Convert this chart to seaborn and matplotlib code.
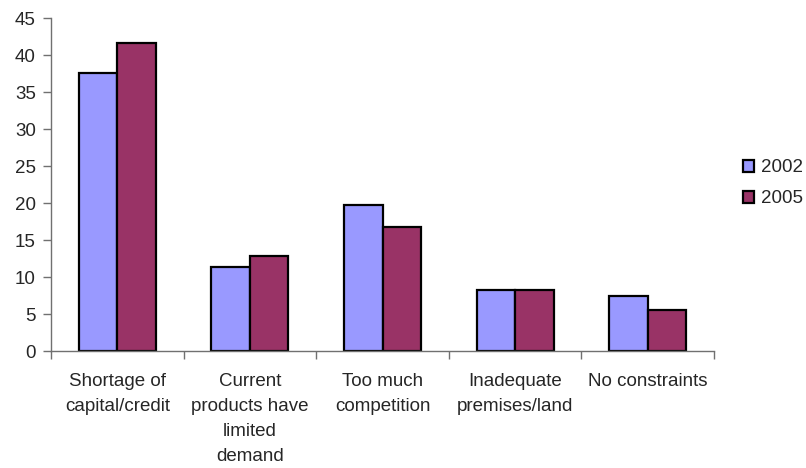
import matplotlib
matplotlib.use("Agg")
import matplotlib.pyplot as plt
import pandas as pd
import seaborn as sns

categories = [
    "Shortage of\ncapital/credit",
    "Current\nproducts have\nlimited\ndemand",
    "Too much\ncompetition",
    "Inadequate\npremises/land",
    "No constraints",
]
years = ["2002", "2005"]
values_2002 = [37.6, 11.3, 19.7, 8.2, 7.4]
values_2005 = [41.7, 12.9, 16.8, 8.2, 5.5]
colors = ["#9999FF", "#993366"]

df = pd.DataFrame({
    "category": categories * 2,
    "year": [years[0]] * len(categories) + [years[1]] * len(categories),
    "value": values_2002 + values_2005,
})

sns.set_style("white")
plt.rcParams["font.family"] = ["Liberation Sans", "DejaVu Sans"]

fig, ax = plt.subplots(figsize=(8.06, 4.68), dpi=100)
fig.subplots_adjust(left=0.0633, right=0.886, bottom=0.25, top=0.961)

sns.barplot(data=df, x="category", y="value", hue="year", palette=colors,
            width=0.58, edgecolor="black", linewidth=1.6, saturation=1,
            ax=ax, legend=False)

ax.set_xlim(-0.5, len(categories) - 0.5)
ax.set_ylim(0, 45)
ax.set_yticks(range(0, 46, 5))
ax.set_xlabel("")
ax.set_ylabel("")

# category labels centred, tick marks at group boundaries
ax.set_xticks(range(len(categories)))
ax.set_xticklabels(categories, fontsize=13.5, linespacing=1.62)
ax.tick_params(axis="x", which="major", length=0, pad=16)
ax.set_xticks([i - 0.5 for i in range(len(categories) + 1)], minor=True)
ax.tick_params(axis="x", which="minor", length=6, width=1, color="#707070",
               direction="out", bottom=True)
ax.tick_params(axis="y", length=6, width=1, color="#707070", direction="out",
               left=True, labelsize=13.5, pad=5)

for side in ["top", "right"]:
    ax.spines[side].set_visible(False)
for side in ["left", "bottom"]:
    ax.spines[side].set_color("#707070")
    ax.spines[side].set_linewidth(1)

handles = [plt.Rectangle((0, 0), 1, 1, facecolor=c, edgecolor="black", linewidth=1.6)
           for c in colors]
fig.legend(handles, years, loc="center left", bbox_to_anchor=(0.910, 0.608),
           frameon=False, fontsize=13.5, handlelength=0.6, handleheight=0.6,
           handletextpad=0.35, labelspacing=0.75, borderpad=0)

fig.savefig("out.png", dpi=100)
